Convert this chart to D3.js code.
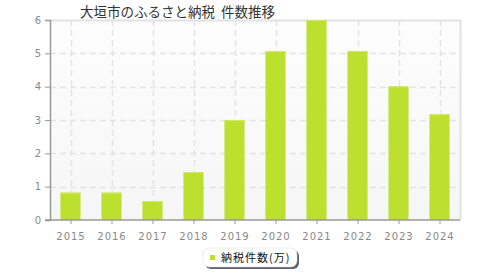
<!DOCTYPE html>
<html><head><meta charset="utf-8">
<script src="https://cdn.jsdelivr.net/npm/d3@7"></script>
<style>
body{margin:0;background:#fff;}
svg{display:block;font-family:"Noto Sans CJK JP","DejaVu Sans",sans-serif;}
</style></head>
<body>
<svg id="c" width="480" height="280"></svg>
<script>
const title = "大垣市のふるさと納税  件数推移";
const years = ["2015","2016","2017","2018","2019","2020","2021","2022","2023","2024"];
const values = [0.82,0.82,0.57,1.44,3.0,5.07,6.0,5.07,4.01,3.17];
const yTicks = [0,1,2,3,4,5,6];
const legendLabel = "納税件数(万)";

const svg = d3.select("#c");
const L=50,R=460,T=20,B=220;
const x = d3.scaleBand().domain(years).range([L,R]).paddingInner(0.51).paddingOuter(0.255);
const xc = d3.scalePoint().domain(years).range([L,R]).padding(0.5);
const y = d3.scaleLinear().domain([0,6]).range([B,T]);

const defs = svg.append("defs");
const g = defs.append("linearGradient").attr("id","bg").attr("x1",0).attr("y1",0).attr("x2",0).attr("y2",1);
g.append("stop").attr("offset","0%").attr("stop-color","#fdfdfd");
g.append("stop").attr("offset","100%").attr("stop-color","#f6f6f6");

svg.append("rect").attr("x",L).attr("y",T).attr("width",R-L).attr("height",B-T).attr("fill","url(#bg)");
svg.append("path").attr("d",`M${L},${T+0.5}H${R+0.5}V${B}`).attr("fill","none").attr("stroke","#e2e2e2").attr("stroke-width",2);

svg.append("g").selectAll("line").data(yTicks.filter(d=>d>0&&d<6)).join("line")
  .attr("x1",L).attr("x2",R).attr("y1",d=>Math.round(y(d))+0.5).attr("y2",d=>Math.round(y(d))+0.5)
  .attr("stroke","#e4e4e4").attr("stroke-dasharray","6,4").attr("stroke-width",1.5);
svg.append("g").selectAll("line").data(years).join("line")
  .attr("x1",d=>Math.round(xc(d))+0.5).attr("x2",d=>Math.round(xc(d))+0.5).attr("y1",T).attr("y2",B)
  .attr("stroke","#e4e4e4").attr("stroke-dasharray","6,4").attr("stroke-width",1.5);

svg.append("g").selectAll("rect").data(values).join("rect")
  .attr("x",(d,i)=>x(years[i])).attr("width",x.bandwidth())
  .attr("y",d=>y(d)).attr("height",d=>B-y(d)).attr("fill","#bde02f");
svg.append("g").selectAll("rect").data(values).join("rect")
  .attr("x",(d,i)=>x(years[i])).attr("width",x.bandwidth())
  .attr("y",d=>y(d)).attr("height",1).attr("fill","#cfe86a");

const ya = svg.append("g").attr("transform",`translate(${L},0)`)
  .call(d3.axisLeft(y).tickValues(yTicks).tickSize(5).tickPadding(4).tickFormat(d3.format("d")));
const xa = svg.append("g").attr("transform",`translate(0,${B})`)
  .call(d3.axisBottom(xc).tickSize(4).tickPadding(9));
[ya,xa].forEach(a=>{
  a.select(".domain").attr("stroke","#999").attr("stroke-width",1.5);
  a.selectAll(".tick line").attr("stroke","#999");
  a.selectAll("text").attr("fill","#888").attr("font-size",10).attr("font-family","DejaVu Sans, sans-serif");
});
xa.select(".domain").attr("d",`M${L-5},0H${R}`);
xa.selectAll("text").attr("letter-spacing","1px");

svg.append("text").attr("x",80).attr("y",17).attr("font-size",13.5).attr("fill","#333")
  .style("white-space","pre").text(title);

const lg = svg.append("g");
lg.append("rect").attr("x",205).attr("y",250).attr("width",94).attr("height",19).attr("rx",6).attr("fill","#5a6070");
lg.append("rect").attr("x",203).attr("y",248).attr("width",94).attr("height",19).attr("rx",6).attr("fill","#fff").attr("stroke","#d8d8d8").attr("stroke-width",0.5);
lg.append("rect").attr("x",210).attr("y",255).attr("width",5).attr("height",5).attr("fill","#bde02f");
lg.append("text").attr("x",221).attr("y",262).attr("font-size",11).attr("fill","#111").attr("letter-spacing","1px").text(legendLabel);
</script>
</body></html>
